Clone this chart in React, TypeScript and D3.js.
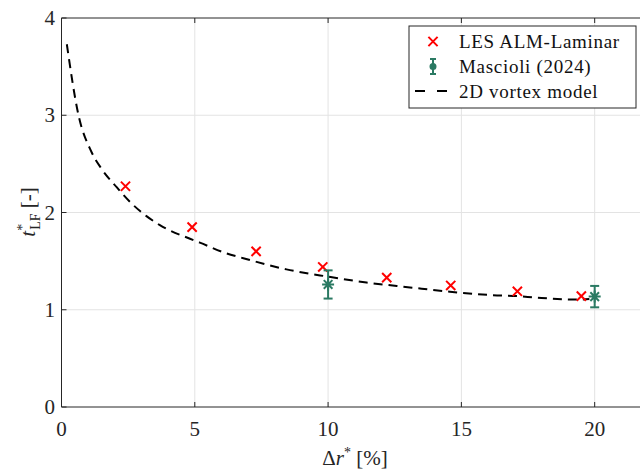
import React from "react";
import * as d3 from "d3";

const xTicks = [0, 5, 10, 15, 20];
const yTicks = [0, 1, 2, 3, 4];

const lesX = [2.4, 4.9, 7.3, 9.8, 12.2, 14.6, 17.1, 19.5];
const lesY = [2.27, 1.85, 1.6, 1.44, 1.33, 1.25, 1.19, 1.14];

const masX = [10, 20];
const masY = [1.26, 1.135];
const masErr = [0.145, 0.11];

const vortexX = [0.2, 0.63, 1.13, 1.5, 2.07, 2.64, 3.2, 3.69, 4.82, 5.19, 6.19, 6.82, 8.44, 10.0, 11.44, 13.07, 14.57, 16.19, 17.1, 17.82, 19.32, 19.8];
const vortexY = [3.73, 3.01, 2.62, 2.45, 2.26, 2.09, 1.96, 1.87, 1.73, 1.69, 1.58, 1.53, 1.415, 1.34, 1.28, 1.23, 1.185, 1.15, 1.14, 1.125, 1.105, 1.11];

const W = 640;
const H = 471;
const L = 61.5, R = 648, T = 18, B = 407;
const axisColor = "#262626";
const gridColor = "#e3e3e3";
const red = "#ff0000";
const teal = "#2b7a63";
const font = "Liberation Serif, DejaVu Serif, serif";

export default function App() {
  const x = d3.scaleLinear().domain([0, 22]).range([L, R]);
  const y = d3.scaleLinear().domain([0, 4]).range([B, T]);
  const line = d3
    .line<number>()
    .x((_, i) => x(vortexX[i]))
    .y((d) => y(d))
    .curve(d3.curveMonotoneX);

  const cross = (cx: number, cy: number, s: number, key: string) => (
    <path key={key} d={`M${cx - s},${cy - s}L${cx + s},${cy + s}M${cx - s},${cy + s}L${cx + s},${cy - s}`} stroke={red} strokeWidth={2} fill="none" />
  );
  const star = (cx: number, cy: number, s: number) => {
    const d = s * 0.72;
    return `M${cx},${cy - s}L${cx},${cy + s}M${cx - s},${cy}L${cx + s},${cy}M${cx - d},${cy - d}L${cx + d},${cy + d}M${cx - d},${cy + d}L${cx + d},${cy - d}`;
  };
  const ts = { fontFamily: font } as React.CSSProperties;

  return (
    <svg width={W} height={H} style={{ position: "absolute", left: 0, top: 0, background: "#fff", fontFamily: font }}>
      <rect x={0} y={0} width={W} height={H} fill="#fff" />
      {/* grid */}
      {xTicks.filter((t) => t > 0).map((t) => (
        <line key={"gx" + t} x1={x(t)} x2={x(t)} y1={T} y2={B} stroke={gridColor} strokeWidth={1} />
      ))}
      {yTicks.filter((t) => t > 0 && t < 4).map((t) => (
        <line key={"gy" + t} x1={L} x2={R} y1={y(t)} y2={y(t)} stroke={gridColor} strokeWidth={1} />
      ))}
      {/* axes box */}
      <line x1={L} x2={R} y1={B} y2={B} stroke={axisColor} strokeWidth={1} />
      <line x1={L} x2={R} y1={T} y2={T} stroke={axisColor} strokeWidth={1} />
      <line x1={L} x2={L} y1={T} y2={B} stroke={axisColor} strokeWidth={1} />
      {/* ticks */}
      {xTicks.map((t) => (
        <g key={"tx" + t}>
          <line x1={x(t)} x2={x(t)} y1={B} y2={B - 5} stroke={axisColor} />
          <line x1={x(t)} x2={x(t)} y1={T} y2={T + 5} stroke={axisColor} />
          <text x={x(t)} y={436} fontSize={21} textAnchor="middle" fill={axisColor} style={ts}>{t}</text>
        </g>
      ))}
      {yTicks.map((t) => (
        <g key={"ty" + t}>
          <line x1={L} x2={L + 5} y1={y(t)} y2={y(t)} stroke={axisColor} />
          <text x={55} y={y(t) + 7} fontSize={21} textAnchor="end" fill={axisColor} style={ts}>{t}</text>
        </g>
      ))}
      {/* axis labels */}
      <text x={355} y={465} fontSize={21} textAnchor="middle" fill={axisColor} style={ts}>
        <tspan>Δ</tspan>
        <tspan fontStyle="italic">r</tspan>
        <tspan fontSize={14} dy={-8}>*</tspan>
        <tspan dy={8}> [%]</tspan>
      </text>
      <text transform={`translate(35,212) rotate(-90)`} fontSize={21} textAnchor="middle" fill={axisColor} style={ts}>
        <tspan fontStyle="italic">t</tspan>
        <tspan fontSize={14} dy={-8}>*</tspan>
        <tspan fontSize={14} dx={-6} dy={13}>LF</tspan>
        <tspan dy={-5}> [-]</tspan>
      </text>
      {/* vortex model curve */}
      <path d={line(vortexY) || ""} fill="none" stroke="#000" strokeWidth={2} strokeDasharray="9,6" />
      {/* LES points */}
      {lesX.map((v, i) => cross(x(v), y(lesY[i]), 4.6, "les" + i))}
      {/* Mascioli */}
      {masX.map((v, i) => {
        const cx = x(v);
        const y1 = y(masY[i] + masErr[i]);
        const y2 = y(masY[i] - masErr[i]);
        return (
          <g key={"m" + i} stroke={teal} strokeWidth={2} fill="none">
            <line x1={cx} x2={cx} y1={y1} y2={y2} />
            <line x1={cx - 4.5} x2={cx + 4.5} y1={y1} y2={y1} />
            <line x1={cx - 4.5} x2={cx + 4.5} y1={y2} y2={y2} />
            <path d={star(cx, y(masY[i]), 6)} />
          </g>
        );
      })}
      {/* legend */}
      <rect x={409} y={26} width={227} height={82} fill="#fff" stroke={axisColor} strokeWidth={1} />
      {cross(433, 41.5, 4.6, "legx")}
      <g stroke={teal} strokeWidth={2}>
        <line x1={433} x2={433} y1={59} y2={74} />
        <line x1={430} x2={436} y1={59} y2={59} />
        <line x1={430} x2={436} y1={74} y2={74} />
        <circle cx={433} cy={66.5} r={2.5} fill={teal} />
      </g>
      <line x1={415} x2={450} y1={91} y2={91} stroke="#000" strokeWidth={2} strokeDasharray="10,12" />
      <g fontSize={19} fill="#111">
        <text x={459} y={48} style={{ ...ts, letterSpacing: "0.7px" }}>LES ALM-Laminar</text>
        <text x={459} y={73} style={{ ...ts, letterSpacing: "0.7px" }}>Mascioli (2024)</text>
        <text x={459} y={97.5} style={{ ...ts, letterSpacing: "0.7px" }}>2D vortex model</text>
      </g>
    </svg>
  );
}
